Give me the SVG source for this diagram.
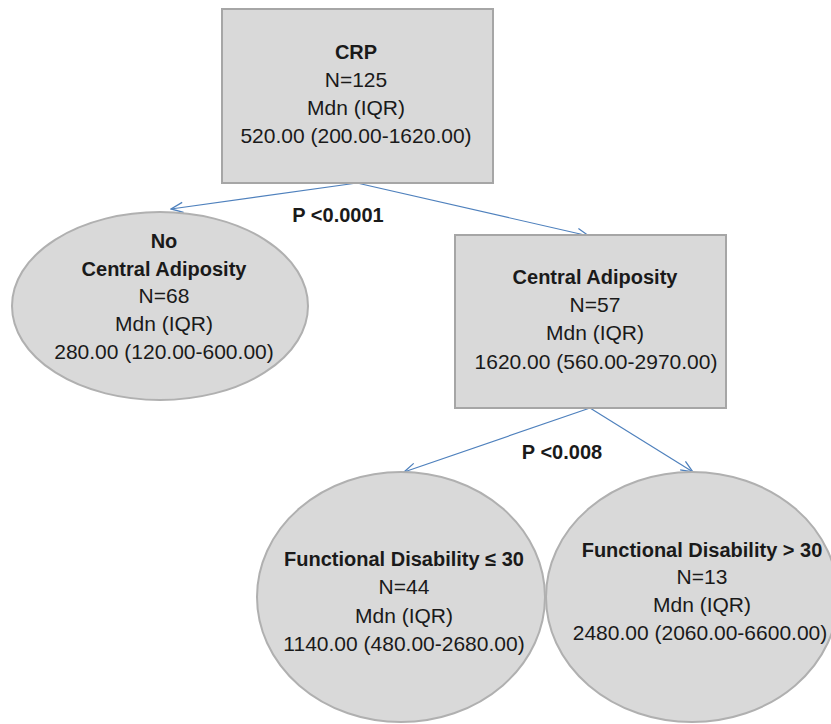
<svg xmlns="http://www.w3.org/2000/svg" width="831" height="724" viewBox="0 0 831 724">
<style>
.box{fill:#d9d9d9;stroke:#a6a6a6;stroke-width:2}
.ell{fill:#d9d9d9;stroke:#b0b0b0;stroke-width:2}
text{font-family:"Liberation Sans",Arial,sans-serif;font-size:21px;fill:#1a1a1a;text-anchor:middle}
.b{font-weight:bold;font-size:20px}
.edge{stroke:#4f81bd;stroke-width:1.2;fill:none;marker-end:url(#ah)}
</style>
<defs>
<marker id="ah" markerUnits="userSpaceOnUse" markerWidth="14" markerHeight="12" viewBox="0 0 14 12" refX="13" refY="6" orient="auto">
<path d="M1,1 L13,6 L1,11" fill="none" stroke="#4f81bd" stroke-width="1.3"/>
</marker>
</defs>
<g id="connectors">
<line class="edge" x1="357" y1="183" x2="171" y2="209"/>
<line class="edge" x1="357" y1="183" x2="589" y2="236"/>
<line class="edge" x1="590" y1="408" x2="404" y2="472"/>
<line class="edge" x1="590" y1="408" x2="693" y2="472"/>
<text class="b" x="338" y="222">P &lt;0.0001</text>
<text class="b" x="562" y="459">P &lt;0.008</text>
</g>
<g id="crp">
<rect class="box" x="222" y="9" width="271" height="174"/>
<text class="b" x="356" y="59">CRP</text>
<text x="356" y="87">N=125</text>
<text x="356" y="115">Mdn (IQR)</text>
<text x="356" y="143">520.00 (200.00-1620.00)</text>
</g>
<g id="no-central-adiposity">
<ellipse class="ell" cx="160" cy="306" rx="148" ry="94"/>
<text class="b" x="164" y="248">No</text>
<text class="b" x="164" y="276">Central Adiposity</text>
<text x="164" y="303">N=68</text>
<text x="164" y="331">Mdn (IQR)</text>
<text x="164" y="359">280.00 (120.00-600.00)</text>
</g>
<g id="central-adiposity">
<rect class="box" x="455" y="235" width="271" height="173"/>
<text class="b" x="595" y="284">Central Adiposity</text>
<text x="595" y="312">N=57</text>
<text x="595" y="340">Mdn (IQR)</text>
<text x="596" y="369">1620.00 (560.00-2970.00)</text>
</g>
<g id="fd-low">
<ellipse class="ell" cx="401" cy="597" rx="144" ry="125"/>
<text class="b" x="404" y="566">Functional Disability ≤ 30</text>
<text x="404" y="594">N=44</text>
<text x="404" y="623">Mdn (IQR)</text>
<text x="404" y="651">1140.00 (480.00-2680.00)</text>
</g>
<g id="fd-high">
<ellipse class="ell" cx="692" cy="597" rx="146" ry="125"/>
<text class="b" x="702" y="557">Functional Disability &gt; 30</text>
<text x="702" y="584">N=13</text>
<text x="702" y="612">Mdn (IQR)</text>
<text x="700" y="640">2480.00 (2060.00-6600.00)</text>
</g>
</svg>
